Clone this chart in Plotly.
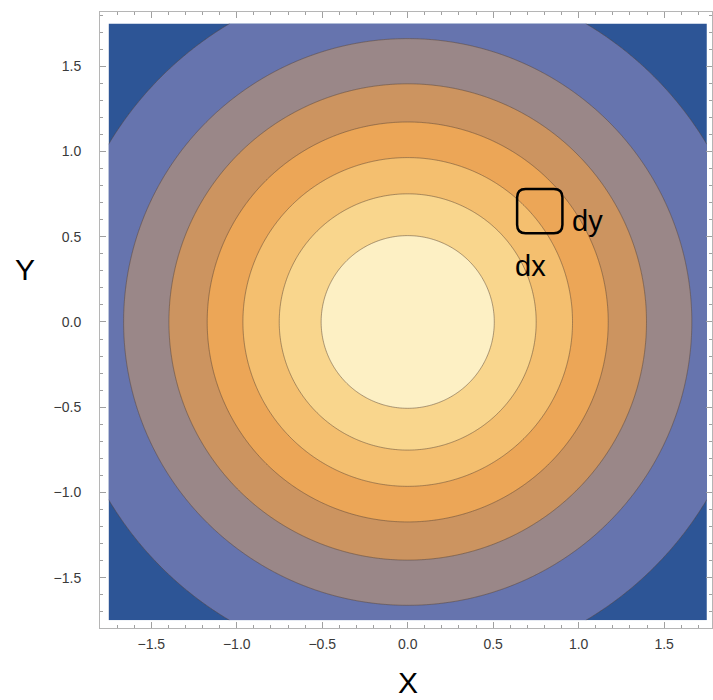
import numpy as np
import plotly.graph_objects as go

# ---- data ----
# grid extent of the plotted surface (standard bivariate normal density)
x_extent = [-1.75, 1.75]
y_extent = [-1.75, 1.75]
grid_step = 0.01
sigma = 1.0
# contour levels of the density (innermost ring at 0.14, outermost at 0.02)
contour_start = 0.02
contour_end = 0.14
contour_step = 0.02
# band colours from outermost (lowest density) to the centre (highest)
band_colors = ["#2d5596", "#6674ae", "#9a8788", "#cc9460",
               "#eca657", "#f4bf6f", "#f9d68d", "#fdf0c4"]
x_tick_vals = [-1.5, -1.0, -0.5, 0.0, 0.5, 1.0, 1.5]
y_tick_vals = [-1.5, -1.0, -0.5, 0.0, 0.5, 1.0, 1.5]
x_tick_text = ["−1.5", "−1.0", "−0.5", "0.0", "0.5", "1.0", "1.5"]
y_tick_text = ["−1.5", "−1.0", "−0.5", "0.0", "0.5", "1.0", "1.5"]

# element square dx dy (annotation)
sq_x = [0.64, 0.905]
sq_y = [0.52, 0.78]
sq_r = 0.05

x = np.arange(x_extent[0], x_extent[1] + grid_step / 2, grid_step)
y = np.arange(y_extent[0], y_extent[1] + grid_step / 2, grid_step)
X, Y = np.meshgrid(x, y)
Z = np.exp(-(X**2 + Y**2) / (2 * sigma**2)) / (2 * np.pi * sigma**2)

n = len(band_colors)
colorscale = [[k / (n - 1), c] for k, c in enumerate(band_colors)]

fig = go.Figure()
fig.add_trace(go.Contour(
    x=x, y=y, z=Z,
    colorscale=colorscale,
    showscale=False,
    contours=dict(start=contour_start, end=contour_end, size=contour_step,
                  coloring="fill"),
    line=dict(color="rgba(90,70,55,0.5)", width=1, smoothing=1),
    hoverinfo="skip",
))

x0, x1 = sq_x
y0, y1 = sq_y
r = sq_r
path = (f"M {x0+r},{y1} L {x1-r},{y1} Q {x1},{y1} {x1},{y1-r} "
        f"L {x1},{y0+r} Q {x1},{y0} {x1-r},{y0} L {x0+r},{y0} "
        f"Q {x0},{y0} {x0},{y0+r} L {x0},{y1-r} Q {x0},{y1} {x0+r},{y1} Z")
fig.add_shape(type="path", path=path, xref="x", yref="y",
              line=dict(color="black", width=2.5))

lab_font = dict(size=29, color="black", family="Liberation Sans")
fig.add_annotation(x=0.72, y=0.33, xref="x", yref="y", text="dx",
                   showarrow=False, font=lab_font,
                   xanchor="center", yanchor="middle")
fig.add_annotation(x=1.05, y=0.59, xref="x", yref="y", text="dy",
                   showarrow=False, font=lab_font,
                   xanchor="center", yanchor="middle")

W, H = 713, 700
ml, mr, mt, mb = 100, 1, 12, 72
pw = W - ml - mr
ph = H - mt - mb


def px_to_paper(px, py):
    return (px - ml) / pw, 1 - (py - mt) / ph


title_font = dict(size=30, color="black", family="Liberation Sans")
ax_x, ax_y = px_to_paper(408, 683)
fig.add_annotation(x=ax_x, y=ax_y, xref="paper", yref="paper", text="X",
                   showarrow=False, font=title_font,
                   xanchor="center", yanchor="middle")
ay_x, ay_y = px_to_paper(25, 270)
fig.add_annotation(x=ay_x, y=ay_y, xref="paper", yref="paper", text="Y",
                   showarrow=False, font=title_font,
                   xanchor="center", yanchor="middle")

axis_common = dict(
    showgrid=False, zeroline=False, showline=True, linecolor="#b5b5b5",
    linewidth=1, mirror="ticks", ticks="inside", ticklen=6, tickwidth=1,
    tickcolor="#a0a0a0",
    minor=dict(ticks="inside", ticklen=3, dtick=0.1, tickcolor="#a0a0a0",
               showgrid=False),
    tickfont=dict(size=14, color="#3a3a3a", family="Liberation Sans"),
    automargin=False,
)

fig.update_layout(
    width=W, height=H,
    margin=dict(l=ml, r=mr, t=mt, b=mb),
    paper_bgcolor="white", plot_bgcolor="white",
    showlegend=False,
    xaxis=dict(range=[-1.80, 1.78], tickvals=x_tick_vals,
               ticktext=x_tick_text, ticklabelstandoff=3, **axis_common),
    yaxis=dict(range=[-1.795, 1.818], tickvals=y_tick_vals,
               ticktext=y_tick_text, ticklabelstandoff=15, **axis_common),
)

fig.write_html("out.html",
               config={"displayModeBar": False},
               post_script="document.body.style.margin='0';"
                           "document.body.style.overflow='hidden';")
